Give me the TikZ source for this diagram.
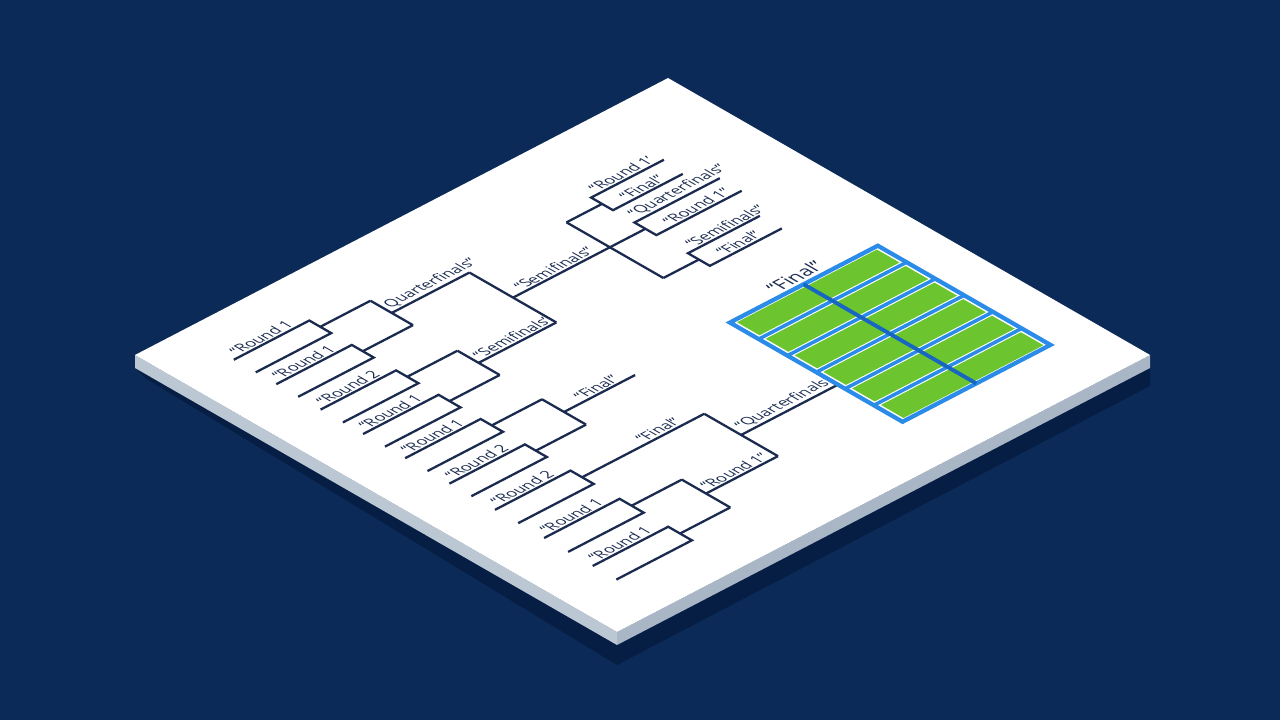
\documentclass[tikz,border=0pt]{standalone}
\usepackage{fontspec}
\setmainfont{Open Sans}
\definecolor{navybg}{HTML}{0B2A57}
\definecolor{navyshadow}{HTML}{061C40}
\definecolor{edgeleft}{HTML}{BCC7D4}
\definecolor{edgeright}{HTML}{A9B6C6}
\definecolor{ink}{HTML}{1B2B50}
\definecolor{turf}{HTML}{6CC52E}
\definecolor{gridblue}{HTML}{2A8BE8}
\definecolor{midblue}{HTML}{1766C2}
\tikzset{
  bracket/.style={draw=ink, line width=0.65pt},
  tag/.style={transform shape, anchor=south west, inner sep=1.3pt, text=ink,
    font=\fontsize{8.6}{10}\selectfont},
}
\begin{document}
\begin{tikzpicture}
    \useasboundingbox (0,0) rectangle (12.8,7.2);
    \fill[navybg] (0,0) rectangle (12.8,7.2);

    \fill[navyshadow, opacity=0.8] (1.35,3.52) -- (6.17,0.75) -- (11.50,3.52)
        -- (11.50,3.34) -- (6.17,0.55) -- (1.45,3.42) -- cycle;
    \fill[edgeleft] (1.35,3.65) -- (6.17,0.88) -- (6.17,0.75) -- (1.35,3.52) -- cycle;
    \fill[edgeright] (6.17,0.88) -- (11.50,3.65) -- (11.50,3.52) -- (6.17,0.75) -- cycle;

    \begin{scope}[cm={0.4442,0.2308,-0.4382,0.2518,(1.35,3.65)}]
        \fill[white] (0,0) rectangle (12,-11);

        \foreach \a/\b/\e in {-1.17/-1.67/3.9, -2.14/-2.64/3.9, -3.15/-3.66/3.9,
                              -4.12/-4.62/3.9, -5.08/-5.59/3.9, -6.09/-6.59/3.9,
                              -7.13/-7.66/5.52, -8.25/-8.80/3.9, -9.36/-9.90/3.9} {
            \draw[bracket] (1.07,\a) -- (2.77,\a) -- (2.77,\b) -- (1.07,\b);
            \draw[bracket] (2.77,{(\a+\b)/2}) -- (\e,{(\a+\b)/2});
        }
        \foreach \y/\rnd [count=\i] in {-1.17/1, -2.14/1, -3.15/2, -4.12/1, -5.08/1,
                                        -6.09/2, -7.13/2, -8.25/1, -9.36/1}
            \node[tag] (entry\i) at (1.15,\y) {“Round \rnd};

        \foreach \a/\b/\e in {-1.42/-2.39/5.65, -3.405/-4.37/5.65,
                              -5.335/-6.34/5.5, -8.525/-9.63/5.52} {
            \draw[bracket] (3.9,\a) -- (3.9,\b);
            \draw[bracket] (3.9,{(\a+\b)/2}) -- (\e,{(\a+\b)/2});
        }
        \draw[bracket] (5.65,-1.905) -- (5.65,-3.8875);
        \draw[bracket] (5.65,-2.9) -- (8.63,-2.9);
        \draw[bracket] (5.52,-7.395) -- (5.52,-9.0775);
        \draw[bracket] (5.52,-8.236) -- (7.7,-8.236);

        \node[tag] (qf) at (3.93,-1.905) {Quarterfinals”};
        \node[tag] (sfa) at (3.95,-3.8875) {“Semifinals’};
        \node[tag] (sfb) at (5.85,-2.9) {“Semifinals”};
        \node[tag] (fa) at (4.3,-5.8375) {“Final”};
        \node[tag] (fb) at (4.15,-7.395) {“Final”};
        \node[tag] (qfb) at (5.6,-8.236) {“Quarterfinals”};
        \node[tag] (rb) at (3.95,-9.0775) {“Round 1”};

        \draw[bracket] (7.83,-1.91) -- (7.83,-4.12);
        \draw[bracket] (7.83,-1.91) -- (8.63,-1.91);
        \draw[bracket] (7.83,-4.12) -- (8.63,-4.12);
        \foreach \m/\p/\q in {-1.91/10.27/10.2, -2.9/10.55/10.55, -4.12/10.25/10.25}
            \draw[bracket] (\p,\m+0.25) -- (8.63,\m+0.25) -- (8.63,\m-0.25) -- (\q,\m-0.25);
        \node[tag] (tr1) at (8.75,-1.66) {“Round 1’};
        \node[tag] (tf1) at (8.95,-2.16) {“Final”};
        \node[tag] (tq) at (8.7,-2.65) {“Quarterfinals”};
        \node[tag] (tr2) at (8.95,-3.15) {“Round 1”};
        \node[tag] (ts) at (8.75,-3.87) {“Semifinals”};
        \node[tag] (tf2) at (8.95,-4.37) {“Final”};

        \fill[white] (7.7,-5.77) rectangle (11.03,-9.71);
        \foreach \i in {0,...,5}
            \fill[turf] (7.79,{-5.77-0.657*\i-0.07}) rectangle (10.94,{-5.77-0.657*(\i+1)+0.07});
        \foreach \i in {1,...,5}
            \draw[gridblue, line width=1pt] (7.7,{-5.77-0.657*\i}) -- (11.03,{-5.77-0.657*\i});
        \draw[gridblue, line width=1.2pt] (7.7,-5.77) rectangle (11.03,-9.71);
        \draw[midblue, line width=1.1pt] (9.36,-5.77) -- (9.36,-9.71);
        \node[tag, font=\fontsize{11}{13}\selectfont] (grid) at (8.8,-5.72) {“Final”};
    \end{scope}
\end{tikzpicture}
\end{document}
